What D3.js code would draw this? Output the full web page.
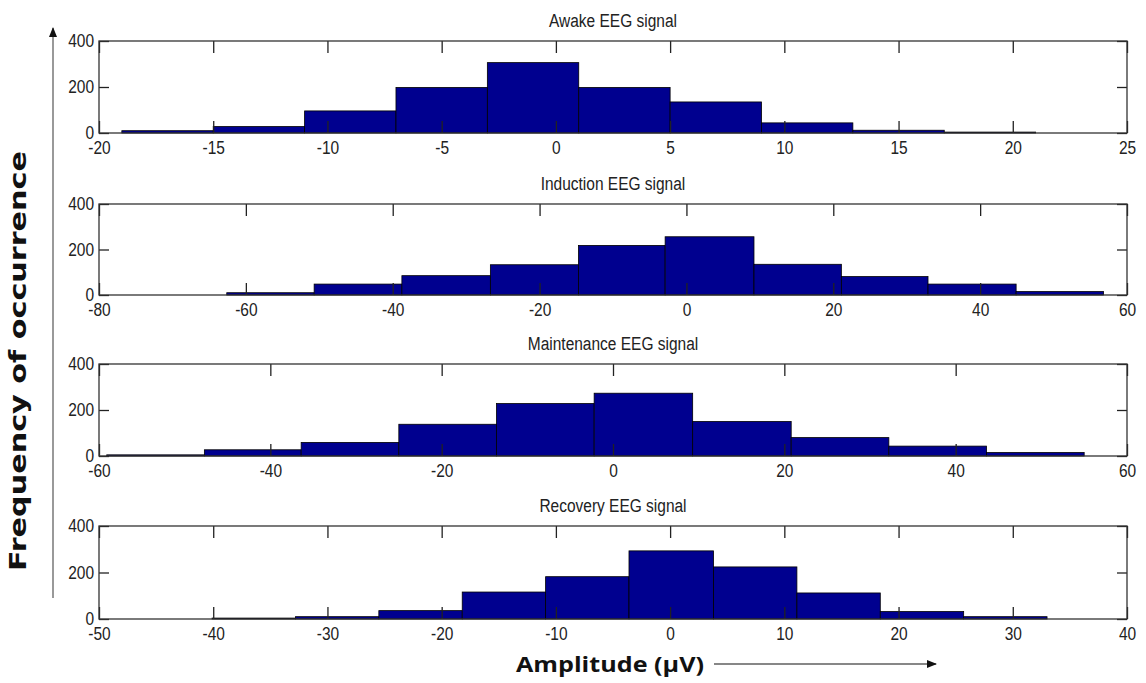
<!DOCTYPE html>
<html lang='en'>
<head>
  <meta charset='UTF-8'>
  <title>EEG amplitude histograms</title>
  <script src="https://d3js.org/d3.v7.min.js"></script>
  <style>
    body { margin: 0; background: #fff; }
    svg text { fill: #222; }
    .tick text { font-family: 'Liberation Sans', Arial, sans-serif; font-size: 18px; }
    .title { font-family: 'Liberation Sans', Arial, sans-serif; font-size: 18px; }
  </style>
</head>
<body>
  <div id="chart"></div>
  <script>
    // bin edges (µV) and counts
    const titles = ['Awake EEG signal', 'Induction EEG signal', 'Maintenance EEG signal', 'Recovery EEG signal'];

    const awakeEdges = [-19, -15, -11, -7, -3, 1, 5, 9, 13, 17, 21];
    const awakeCounts = [10, 28, 96, 198, 306, 198, 135, 44, 12, 4];
    const awakeTicks = [-20, -15, -10, -5, 0, 5, 10, 15, 20, 25];

    const inductionEdges = [-62.6, -50.7, -38.75, -26.7, -14.7, -2.9, 9.2, 21.1, 32.9, 44.9, 56.8];
    const inductionCounts = [10, 48, 85, 133, 218, 256, 135, 81, 48, 15];
    const inductionTicks = [-80, -60, -40, -20, 0, 20, 40, 60];

    const maintenanceEdges = [-59.1, -47.7, -36.4, -25.0, -13.6, -2.2, 9.3, 20.8, 32.2, 43.6, 55.0];
    const maintenanceCounts = [5, 27, 59, 138, 228, 273, 150, 80, 43, 15];
    const maintenanceTicks = [-60, -40, -20, 0, 20, 40, 60];

    const recoveryEdges = [-40.1, -32.8, -25.5, -18.2, -10.9, -3.6, 3.8, 11.1, 18.4, 25.7, 33.0];
    const recoveryCounts = [4, 10, 36, 116, 182, 293, 224, 112, 32, 10];
    const recoveryTicks = [-50, -40, -30, -20, -10, 0, 10, 20, 30, 40];

    const yTicks = [0, 200, 400];

    const panels = [
      { edges: awakeEdges, counts: awakeCounts, ticks: awakeTicks },
      { edges: inductionEdges, counts: inductionCounts, ticks: inductionTicks },
      { edges: maintenanceEdges, counts: maintenanceCounts, ticks: maintenanceTicks },
      { edges: recoveryEdges, counts: recoveryCounts, ticks: recoveryTicks },
    ];

    const W = 1146, H = 683;
    const left = 99, right = 1127;
    const tops = [41, 204, 364, 526];
    const bottoms = [133, 295, 456, 619];

    const svg = d3.select('#chart').append('svg')
      .attr('width', W)
      .attr('height', H);

    // plain hyphen minus like the original
    const fmt = (d) => String(d);

    panels.forEach((p, i) => {
      const bins = p.counts.map((c, k) => ({ x0: p.edges[k], x1: p.edges[k + 1], count: c }));
      const xScale = d3.scaleLinear()
        .domain([p.ticks[0], p.ticks[p.ticks.length - 1]])
        .range([left, right]);
      const yScale = d3.scaleLinear()
        .domain([0, 400])
        .range([bottoms[i], tops[i]]);

      const g = svg.append('g');

      // bars
      g.selectAll('rect.bar')
        .data(bins)
        .enter()
        .append('rect')
        .attr('class', 'bar')
        .attr('x', (d) => xScale(d.x0))
        .attr('width', (d) => xScale(d.x1) - xScale(d.x0))
        .attr('y', (d) => yScale(d.count))
        .attr('height', (d) => yScale(0) - yScale(d.count))
        .attr('fill', '#00008f')
        .attr('stroke', '#000')
        .attr('stroke-width', 0.8);

      // axes, ticks pointing inward like matlab
      const xb = g.append('g')
        .attr('transform', `translate(0, ${bottoms[i]})`)
        .call(d3.axisBottom(xScale).tickValues(p.ticks).tickSize(-12).tickPadding(8).tickFormat(fmt));
      const xt = g.append('g')
        .attr('transform', `translate(0, ${tops[i]})`)
        .call(d3.axisTop(xScale).tickValues(p.ticks).tickSize(-12).tickFormat(''));
      const yl = g.append('g')
        .attr('transform', `translate(${left}, 0)`)
        .call(d3.axisLeft(yScale).tickValues(yTicks).tickSize(-10).tickPadding(5).tickFormat(fmt));
      const yr = g.append('g')
        .attr('transform', `translate(${right}, 0)`)
        .call(d3.axisRight(yScale).tickValues(yTicks).tickSize(-10).tickFormat(''));

      [xb, xt, yl, yr].forEach((a) => {
        a.select('.domain').remove();
        a.selectAll('.tick line').attr('stroke', '#222').attr('stroke-width', 1.3);
      });

      // frame
      g.append('rect')
        .attr('x', left)
        .attr('y', tops[i])
        .attr('width', right - left)
        .attr('height', bottoms[i] - tops[i])
        .attr('fill', 'none')
        .attr('stroke', '#333')
        .attr('stroke-width', 1.3);

      g.append('text')
        .attr('class', 'title')
        .attr('x', (left + right) / 2)
        .attr('y', tops[i] - 14)
        .attr('text-anchor', 'middle')
        .text(titles[i]);
    });

    // squeeze the labels a bit, the original uses a narrow font
    svg.selectAll('.tick text, .title').each(function () {
      const len = this.getComputedTextLength();
      if (len > 0) {
        d3.select(this)
          .attr('textLength', len * 0.86)
          .attr('lengthAdjust', 'spacingAndGlyphs');
      }
    });

    // axis labels with arrows
    svg.append('defs').append('marker')
      .attr('id', 'arrow')
      .attr('viewBox', '0 0 10 10')
      .attr('refX', 9)
      .attr('refY', 5)
      .attr('markerWidth', 10)
      .attr('markerHeight', 10)
      .attr('markerUnits', 'userSpaceOnUse')
      .attr('orient', 'auto')
      .append('path')
      .attr('d', 'M0,1 L10,5 L0,9 Z')
      .attr('fill', '#111');

    svg.append('line')
      .attr('x1', 53).attr('y1', 598)
      .attr('x2', 53).attr('y2', 28)
      .attr('stroke', '#555')
      .attr('stroke-width', 1.2)
      .attr('marker-end', 'url(#arrow)');

    svg.append('text')
      .attr('transform', 'translate(26, 361) rotate(-90)')
      .attr('text-anchor', 'middle')
      .attr('font-family', 'DejaVu Sans, sans-serif')
      .attr('font-weight', 'bold')
      .attr('font-size', 23)
      .attr('textLength', 420)
      .attr('lengthAdjust', 'spacingAndGlyphs')
      .style('fill', '#111')
      .text('Frequency of occurrence');

    svg.append('text')
      .attr('x', 610)
      .attr('y', 672)
      .attr('text-anchor', 'middle')
      .attr('font-family', 'Open Sans, sans-serif')
      .attr('font-weight', 'bold')
      .attr('font-size', 21)
      .attr('textLength', 188)
      .attr('lengthAdjust', 'spacingAndGlyphs')
      .style('fill', '#111')
      .text('Amplitude (µV)');

    svg.append('line')
      .attr('x1', 714).attr('y1', 664)
      .attr('x2', 936).attr('y2', 664)
      .attr('stroke', '#111')
      .attr('stroke-width', 1.2)
      .attr('marker-end', 'url(#arrow)');
  </script>
</body>
</html>
